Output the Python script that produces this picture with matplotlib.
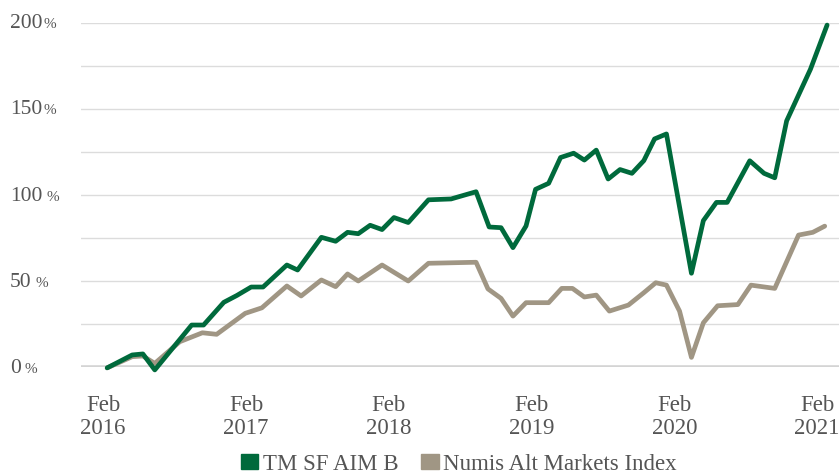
import matplotlib
matplotlib.use('Agg')
import matplotlib.pyplot as plt
from matplotlib.patches import Patch
from matplotlib.transforms import blended_transform_factory, ScaledTranslation

# months counted from Feb 2016, values in % growth
fund_months = [0, 2.1, 3.0, 4.0, 7.1, 8.1, 9.8, 10.9, 12.1, 13.1, 15.1, 16.0, 18.0, 19.2,
               20.2, 21.1, 22.1, 23.1, 24.1, 25.3, 27.0, 28.9, 31.0, 32.1, 33.1, 34.1,
               35.2, 36.0, 37.1, 38.1, 39.2, 40.1, 41.1, 42.1, 43.1, 44.1, 45.1, 46.0,
               47.0, 49.1, 50.1, 51.2, 52.1, 54.0, 55.2, 56.1, 57.1, 59.1, 60.5]
fund_values = [-0.5, 7.0, 7.6, -1.7, 24.4, 24.4, 37.6, 41.6, 46.5, 46.5, 59.3, 56.4, 75.4, 73.1,
               78.3, 77.5, 82.4, 79.9, 86.9, 84.0, 97.2, 97.7, 101.9, 81.4, 81.0, 69.4,
               82.0, 103.3, 106.8, 121.8, 124.3, 120.3, 126.1, 109.3, 114.8, 112.6, 120.0, 132.6,
               135.5, 54.5, 85.1, 95.7, 95.7, 119.9, 112.6, 110.0, 143.1, 173.1, 198.8]

index_months = [0, 2.1, 3.0, 4.0, 6.1, 8.0, 9.2, 11.6, 13.0, 15.1, 16.3, 18.0, 19.2, 20.2,
                21.1, 23.1, 25.3, 27.0, 31.0, 32.0, 33.1, 34.1, 35.2, 37.1, 38.2, 39.1,
                40.1, 41.1, 42.2, 43.8, 45.1, 46.1, 47.0, 48.1, 49.1, 50.1, 51.3, 53.0,
                54.1, 56.1, 58.1, 59.3, 60.3]
index_values = [-0.5, 6.0, 6.4, 2.1, 14.7, 19.9, 19.0, 31.2, 34.4, 47.1, 41.3, 50.6, 46.7, 54.1,
                50.0, 59.3, 50.0, 60.3, 60.9, 45.4, 39.9, 29.6, 37.4, 37.4, 45.7, 45.7,
                40.7, 41.8, 32.5, 36.0, 43.2, 49.0, 47.6, 32.5, 5.6, 25.7, 35.6, 36.3,
                47.6, 45.7, 76.7, 78.3, 81.9]

tick_months = [0, 12, 24, 36, 48, 60]
tick_labels = ['Feb\n2016', 'Feb\n2017', 'Feb\n2018', 'Feb\n2019', 'Feb\n2020', 'Feb\n2021']
y_labels = [0, 50, 100, 150, 200]

green = '#006a3c'
grey = '#a09684'
text_col = '#555555'

plt.rcParams['font.family'] = ['Liberation Serif', 'DejaVu Serif']

W, H = 839, 473
fig = plt.figure(figsize=(W / 100, H / 100), dpi=100)
ax = fig.add_axes([81 / W, 1 - 367 / H, 1 - 81 / W, (367 - 23) / H])
ax.set_xlim(-2.2, 61.5)
ax.set_ylim(0, 200)
for s in ax.spines.values():
    s.set_visible(False)

# gridlines every 25%, zero line heavier
for v in range(0, 201, 25):
    ax.axhline(v, color='#d4d4d4' if v == 0 else '#dcdcdc', lw=2.6 if v == 0 else 1.0, zorder=0)

ax.plot(index_months, index_values, color=grey, lw=3.4, solid_joinstyle='round',
        solid_capstyle='round', clip_on=False, zorder=2)
ax.plot(fund_months, fund_values, color=green, lw=3.4, solid_joinstyle='round',
        solid_capstyle='round', clip_on=False, zorder=3)

ax.set_yticks([])
ax.set_xticks(tick_months, tick_labels)
ax.tick_params(axis='x', length=0, pad=20, labelsize=16.5, labelcolor=text_col)
shift = ScaledTranslation(-4 / 100, 0, fig.dpi_scale_trans)
for t in ax.get_xticklabels():
    t.set_linespacing(1.13)
    t.set_transform(t.get_transform() + shift)

# y labels: number then a smaller % sign on the same baseline
down = ScaledTranslation(0, -5.5 / 100, fig.dpi_scale_trans)
trans = blended_transform_factory(fig.transFigure, ax.transData) + down
fig.canvas.draw()
renderer = fig.canvas.get_renderer()
for v in y_labels:
    t = ax.text(10 / W, v, str(v), transform=trans, ha='left', va='baseline',
                fontsize=15.5, color=text_col)
    bb = t.get_window_extent(renderer)
    gap = 1 if v >= 150 else 4
    ax.text((bb.x1 + gap) / W, v, '%', transform=trans, ha='left', va='baseline',
            fontsize=11, color=text_col)

handles = [Patch(color=green, label='TM SF AIM B'),
           Patch(color=grey, label='Numis Alt Markets Index')]
leg = fig.legend(handles=handles, loc='center', bbox_to_anchor=(459 / W, 1 - 464 / H),
                 ncol=2, frameon=False, fontsize=16.5, handlelength=0.75, handleheight=0.68,
                 handletextpad=0.2, columnspacing=1.0, borderpad=0)
for t in leg.get_texts():
    t.set_color(text_col)

fig.savefig('out.png', dpi=100)
